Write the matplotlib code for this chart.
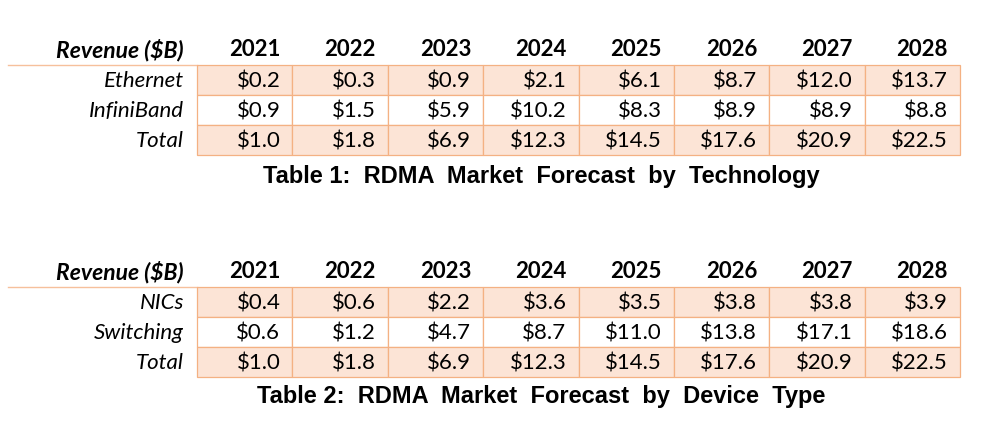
import matplotlib
matplotlib.use("Agg")
import matplotlib.pyplot as plt
from matplotlib.patches import Rectangle

years = ["2021", "2022", "2023", "2024", "2025", "2026", "2027", "2028"]

# table 1: by technology
tech_labels = ["Ethernet", "InfiniBand", "Total"]
ethernet = [0.2, 0.3, 0.9, 2.1, 6.1, 8.7, 12.0, 13.7]
infiniband = [0.9, 1.5, 5.9, 10.2, 8.3, 8.9, 8.9, 8.8]
tech_total = [1.0, 1.8, 6.9, 12.3, 14.5, 17.6, 20.9, 22.5]
title1 = "Table 1:  RDMA  Market  Forecast  by  Technology"

# table 2: by device type
dev_labels = ["NICs", "Switching", "Total"]
nics = [0.4, 0.6, 2.2, 3.6, 3.5, 3.8, 3.8, 3.9]
switching = [0.6, 1.2, 4.7, 8.7, 11.0, 13.8, 17.1, 18.6]
dev_total = [1.0, 1.8, 6.9, 12.3, 14.5, 17.6, 20.9, 22.5]
title2 = "Table 2:  RDMA  Market  Forecast  by  Device  Type"

FILL = "#FCE4D6"
EDGE = "#F4B183"
CELL_FONT = "Lato"

fig = plt.figure(figsize=(9.99, 4.42), dpi=100)
ax = fig.add_axes([0, 0, 1, 1])
ax.set_xlim(0, 999)
ax.set_ylim(442, 0)
ax.axis("off")

x0 = 197.0
col_w = (960.0 - x0) / len(years)
row_h = 30.0


def draw_table(top, labels, rows, title, title_y):
    # header
    hy = top - 15
    ax.text(x0 - 13, hy, "Revenue ($B)", ha="right", va="center",
            fontsize=16.5, fontweight="bold", style="italic", family=CELL_FONT)
    for j, yr in enumerate(years):
        ax.text(x0 + (j + 1) * col_w - 12, hy, yr, ha="right", va="center",
                fontsize=16, fontweight="bold", family=CELL_FONT)
    ax.plot([8, x0], [top, top], color=EDGE, lw=1.0, alpha=0.8)
    for i, (lab, vals) in enumerate(zip(labels, rows)):
        y = top + i * row_h
        shaded = i != 1
        for j, v in enumerate(vals):
            ax.add_patch(Rectangle((x0 + j * col_w, y), col_w, row_h,
                                   facecolor=FILL if shaded else "white",
                                   edgecolor=EDGE, lw=0.9))
            ax.text(x0 + (j + 1) * col_w - 12, y + row_h / 2 + 1,
                    "${:.1f}".format(v), ha="right", va="center",
                    fontsize=16, family=CELL_FONT)
        ax.text(x0 - 13, y + row_h / 2 + 1, lab, ha="right", va="center",
                fontsize=16, style="italic", family=CELL_FONT)
    ax.text(541, title_y, title, ha="center", va="center", fontsize=17,
            fontweight="bold", family="Liberation Sans")


draw_table(65, tech_labels, [ethernet, infiniband, tech_total], title1, 177)
draw_table(287, dev_labels, [nics, switching, dev_total], title2, 397)

fig.savefig("out.png", dpi=100, facecolor="white")
